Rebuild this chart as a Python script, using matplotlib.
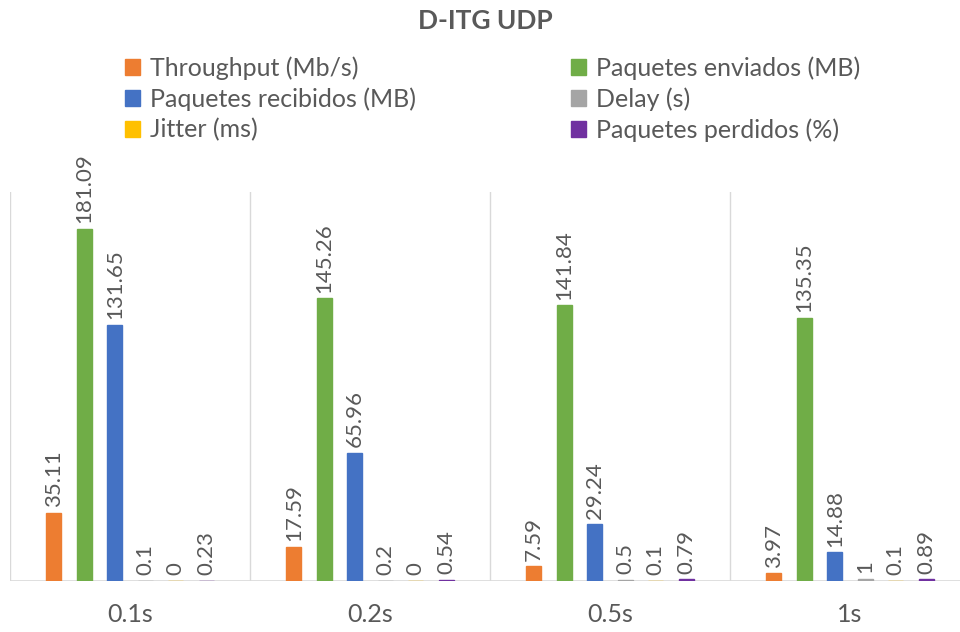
import matplotlib.pyplot as plt
import numpy as np

plt.rcParams['font.family'] = ['Lato', 'DejaVu Sans']

categorias = ['0.1s', '0.2s', '0.5s', '1s']
series = ['Throughput (Mb/s)', 'Paquetes enviados (MB)', 'Paquetes recibidos (MB)',
          'Delay (s)', 'Jitter (ms)', 'Paquetes perdidos (%)']
throughput = [35.11, 17.59, 7.59, 3.97]
enviados = [181.09, 145.26, 141.84, 135.35]
recibidos = [131.65, 65.96, 29.24, 14.88]
delay = [0.1, 0.2, 0.5, 1]
jitter = [0, 0, 0.1, 0.1]
perdidos = [0.23, 0.54, 0.79, 0.89]

colores = ['#ED7D31', '#70AD47', '#4472C4', '#A5A5A5', '#FFC000', '#7030A0']
valores = [throughput, enviados, recibidos, delay, jitter, perdidos]

fig = plt.figure(figsize=(9.6, 6.32), dpi=100)
ax = fig.add_axes([10/960, 1 - 581/632, 1.0, (581 - 192)/632])

x = np.arange(len(categorias))
paso = 0.127
ancho = 0.062
handles = []
for i, (nombre, vals, c) in enumerate(zip(series, valores, colores)):
    b = ax.bar(x + (i - 2.5) * paso, vals, ancho, color=c, edgecolor=c,
               linewidth=1, label=nombre)
    ax.bar_label(b, labels=[f'{v:g}' for v in vals], rotation=90, padding=4,
                 color='#595959', fontsize=16)
    handles.append(b)

ax.set_xlim(-0.5, 3.5)
ax.set_ylim(0, 200)
for sep in np.arange(-0.5, 4.0, 1.0):
    ax.axvline(sep, color='#D9D9D9', lw=1, zorder=0)
for s in ax.spines.values():
    s.set_visible(False)
ax.axhline(0, color='#D9D9D9', lw=1.2, zorder=0)
ax.set_yticks([])
ax.set_xticks(x)
ax.set_xticklabels(categorias, fontsize=18, color='#595959')
ax.tick_params(axis='x', length=0, pad=16)

fig.text(485/960, 1 - 21/632, 'D-ITG UDP', ha='center', va='center',
         fontsize=19, fontweight='bold', color='#595959')

orden = [0, 2, 4, 1, 3, 5]
fig.legend([handles[k] for k in orden], [series[k] for k in orden], ncol=2,
           loc='center left', bbox_to_anchor=(102/960, 1 - 99/632), frameon=False,
           fontsize=18, labelcolor='#595959', handlelength=0.6, handleheight=0.6,
           handletextpad=0.4, columnspacing=6.2, labelspacing=0.3)

plt.savefig('out.png')
